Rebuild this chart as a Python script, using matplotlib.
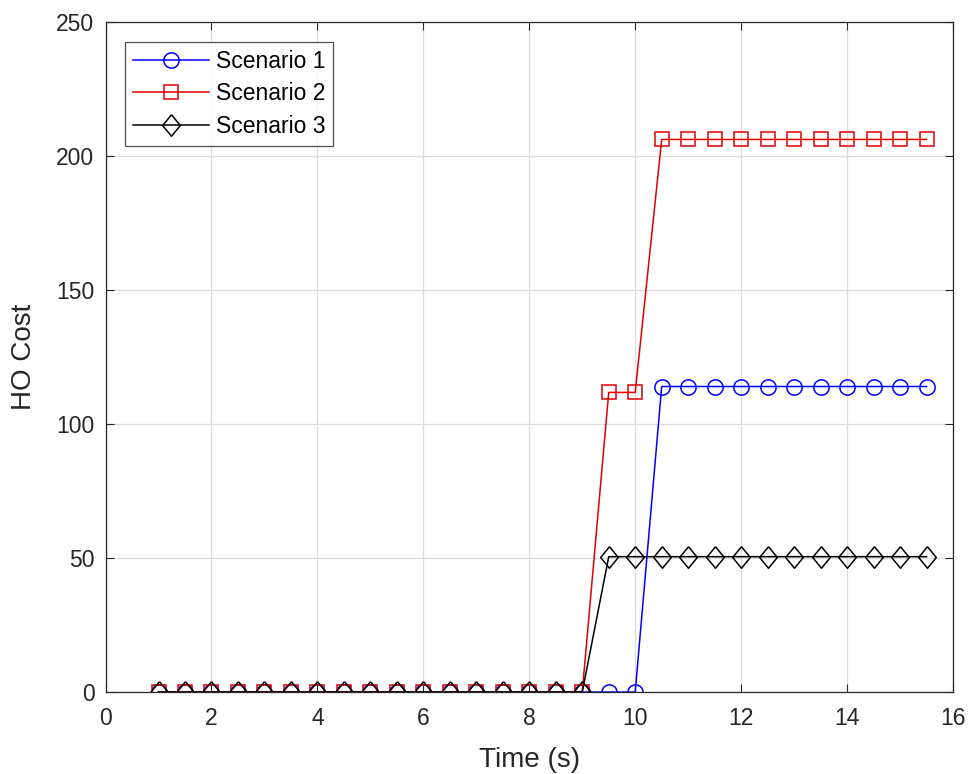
import matplotlib
matplotlib.use("Agg")
import matplotlib.pyplot as plt
import numpy as np

plt.rcParams['font.family'] = ['Liberation Sans', 'DejaVu Sans']

time = [1, 1.5, 2, 2.5, 3, 3.5, 4, 4.5, 5, 5.5, 6, 6.5, 7, 7.5, 8, 8.5, 9,
        9.5, 10, 10.5, 11, 11.5, 12, 12.5, 13, 13.5, 14, 14.5, 15, 15.5]
scenario1 = [0]*19 + [114]*11
scenario2 = [0]*17 + [111.8, 111.8] + [206.2]*11
scenario3 = [0]*17 + [50.5]*13
labels = ['Scenario 1', 'Scenario 2', 'Scenario 3']

fig = plt.figure(figsize=(9.7, 7.74), dpi=100)
ax = fig.add_axes([0.1088, 0.1059, 0.8737, 0.8656])

diamond = [(0, 1), (0.82, 0), (0, -1), (-0.82, 0), (0, 1)]

ax.plot(time, scenario1, color='#0000ff', marker='o', markersize=11, mfc='none', mew=1.1, lw=1.1, label=labels[0])
ax.plot(time, scenario2, color='#e00000', marker='s', markersize=9.5, mfc='none', mew=1.1, lw=1.1, label=labels[1])
ax.plot(time, scenario3, color='#000000', marker=diamond, markersize=15.5, mfc='none', mew=1.1, lw=1.1, label=labels[2])

ax.set_xlim(0, 16)
ax.set_ylim(0, 250)
ax.set_xticks(np.arange(0, 17, 2))
ax.set_yticks(np.arange(0, 251, 50))
ax.grid(True, color='#dcdcdc', lw=0.9)
ax.set_axisbelow(True)
ax.tick_params(direction='in', top=True, right=True, labelsize=16.5, length=6, colors='#262626')
ax.tick_params(axis='x', pad=11)
ax.tick_params(axis='y', pad=8)
for s in ax.spines.values():
    s.set_color('#262626')
    s.set_linewidth(0.9)
ax.set_xlabel('Time (s)', fontsize=20, color='#262626', labelpad=12)
ax.set_ylabel('HO Cost', fontsize=20, color='#262626', labelpad=14)

leg = ax.legend(loc='upper left', fontsize=16.5, frameon=True, fancybox=False,
                edgecolor='#262626', borderaxespad=0.85, handlelength=3.3,
                handletextpad=0.3, labelspacing=0.42, borderpad=0.35)
leg.get_frame().set_linewidth(0.9)

fig.savefig('out.png', dpi=100)
